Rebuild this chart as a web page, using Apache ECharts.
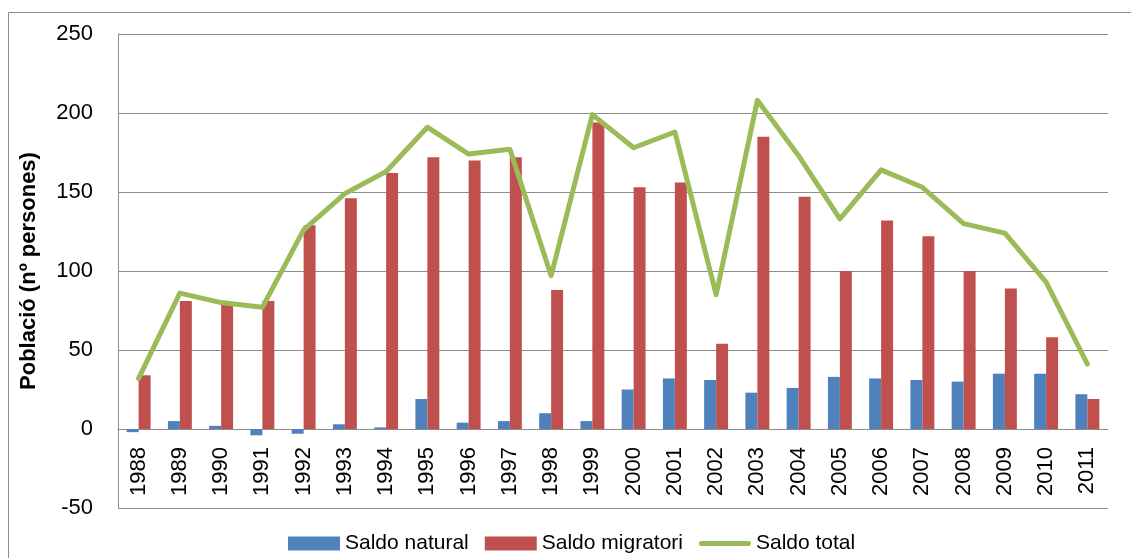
<!DOCTYPE html>
<html>
<head>
<meta charset="utf-8">
<script src="https://cdn.jsdelivr.net/npm/echarts@6/dist/echarts.min.js"></script>
<style>
html,body{margin:0;padding:0;background:#fff;}
#chart{width:1131px;height:558px;}
</style>
</head>
<body>
<div id="chart"></div>
<script>
const years = ['1988','1989','1990','1991','1992','1993','1994','1995','1996','1997','1998','1999','2000','2001','2002','2003','2004','2005','2006','2007','2008','2009','2010','2011'];
const saldoNatural = [-2,5,2,-4,-3,3,1,19,4,5,10,5,25,32,31,23,26,33,32,31,30,35,35,22];
const saldoMigratori = [34,81,79,81,129,146,162,172,170,172,88,194,153,156,54,185,147,100,132,122,100,89,58,19];
const saldoTotal = [32,86,80,77,126,149,163,191,174,177,97,199,178,188,85,208,173,133,164,153,130,124,93,41];
const yTicks = {min: -50, max: 250, interval: 50};
const seriesNames = ['Saldo natural', 'Saldo migratori', 'Saldo total'];
const axisTitle = 'Població (nº persones)';

const chart = echarts.init(document.getElementById('chart'), null, {renderer: 'canvas'});
const gray = '#8c8c8c';
const font = 'Liberation Sans, Arial, sans-serif';
chart.setOption({
  animation: false,
  backgroundColor: '#fff',
  graphic: [{
    type: 'rect', silent: true, z: -10,
    shape: {x: 8.5, y: 12.5, width: 1300, height: 700},
    style: {fill: 'none', stroke: gray, lineWidth: 1}
  }],
  grid: {left: 118, right: 23, top: 34, bottom: 50, containLabel: false, outerBoundsMode: 'none'},
  legend: {
    left: 283, top: 528,
    itemWidth: 52, itemHeight: 14, itemGap: 16,
    symbolKeepAspect: true,
    textStyle: {fontFamily: font, fontSize: 21, color: '#000'},
    data: [
      {name: seriesNames[0], icon: 'rect'},
      {name: seriesNames[1], icon: 'rect'},
      {name: seriesNames[2], icon: 'path://M2.5,0 L49.5,0 A2.5,2.5 0 0 1 49.5,5 L2.5,5 A2.5,2.5 0 0 1 2.5,0 Z', itemStyle: {color: '#9BBB59'}}
    ]
  },
  xAxis: {
    type: 'category',
    data: years,
    axisLine: {onZero: true, lineStyle: {color: gray, width: 1}},
    axisTick: {show: false},
    axisLabel: {rotate: 90, margin: -61, fontFamily: font, fontSize: 22, color: '#000', interval: 0}
  },
  yAxis: {
    type: 'value',
    min: yTicks.min, max: yTicks.max, interval: yTicks.interval,
    name: axisTitle,
    nameLocation: 'middle',
    nameGap: 78,
    nameTextStyle: {fontFamily: font, fontSize: 22, fontWeight: 'bold', color: '#000'},
    axisLine: {show: true, lineStyle: {color: gray, width: 1}},
    axisTick: {show: false},
    axisLabel: {margin: 25, fontFamily: font, fontSize: 22, color: '#000'},
    splitLine: {show: true, lineStyle: {color: gray, width: 1}}
  },
  series: [
    {
      name: seriesNames[0], type: 'bar', data: saldoNatural,
      barGap: '0%', barCategoryGap: '42%',
      itemStyle: {color: '#4F81BD'}
    },
    {
      name: seriesNames[1], type: 'bar', data: saldoMigratori,
      barGap: '0%', barCategoryGap: '42%',
      itemStyle: {color: '#C0504D'}
    },
    {
      name: seriesNames[2], type: 'line', data: saldoTotal,
      symbol: 'none', z: 5,
      lineStyle: {color: '#9BBB59', width: 5, join: 'round', cap: 'round'},
      itemStyle: {color: '#9BBB59'}
    }
  ]
});
</script>
</body>
</html>
